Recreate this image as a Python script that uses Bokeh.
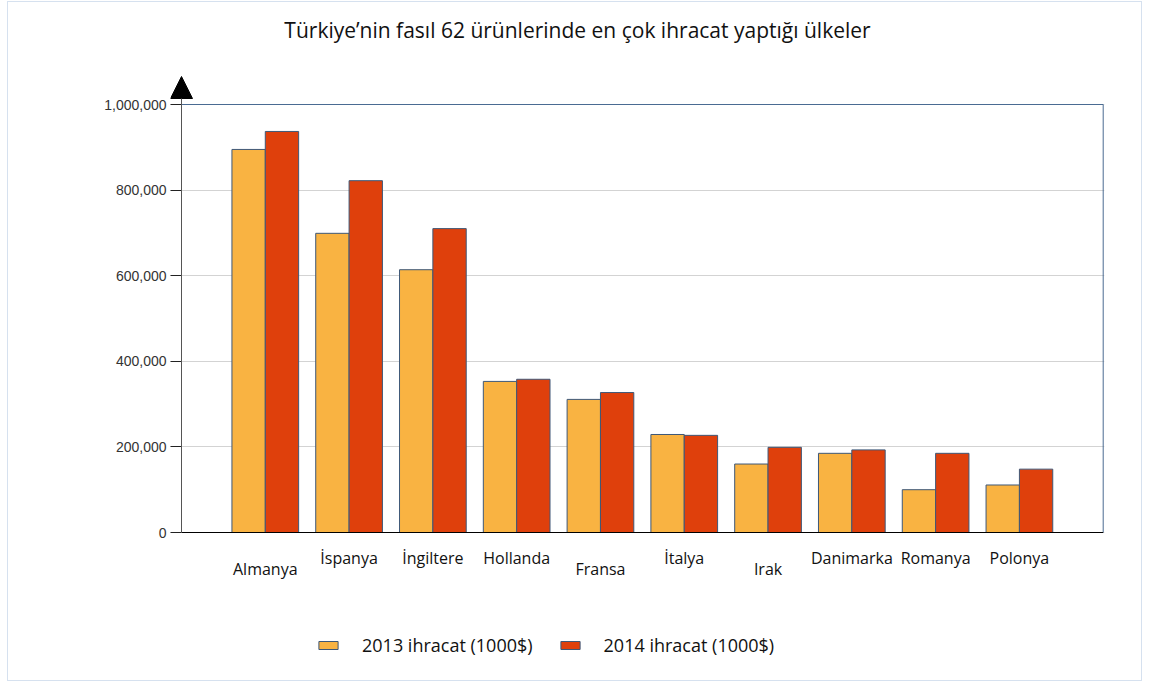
from bokeh.plotting import figure
from bokeh.models import (ColumnDataSource, Range1d, FixedTicker, NumeralTickFormatter,
                          LabelSet, Label, Legend, LegendItem, Arrow, NormalHead)
from bokeh.core.properties import value
from bokeh.embed import file_html
from bokeh.resources import INLINE

title_text = "Türkiye’nin fasıl 62 ürünlerinde en çok ihracat yaptığı ülkeler"
countries = ["Almanya", "İspanya", "İngiltere", "Hollanda", "Fransa",
             "İtalya", "Irak", "Danimarka", "Romanya", "Polonya"]
exports_2013 = [895000, 699000, 614000, 353000, 311000, 229000, 160000, 185000, 100000, 111000]
exports_2014 = [937000, 822000, 710000, 358000, 327000, 227000, 199000, 193000, 185000, 148000]
series_names = ["2013 ihracat (1000$)", "2014 ihracat (1000$)"]
y_ticks = [0, 200000, 400000, 600000, 800000, 1000000]
label_row = [1, 0, 0, 0, 1, 0, 1, 0, 0, 0]  # staggered category labels (1 = lower row)

C13 = "#F9B342"
C14 = "#DF400C"
EDGE = "#3E5878"
FRAME = "#4A6B92"
FONT = "Open Sans"

# layout constants (pixels inside the figure)
FIG_W, FIG_H = 1135, 680
ZERO_PX = 530          # y of value 0 from top
PLOT_H_PX = 428        # px from 0 to y_max
LEFT_PX = 162          # frame left
ORIGIN_X_PX = 173      # x of category axis origin
RIGHT_PX = 1096        # frame right
n = len(countries)
y_max = y_ticks[-1]
px_y = PLOT_H_PX / y_max
px_x = (1094.7 - ORIGIN_X_PX) / (n + 1)

x_lo = -(ORIGIN_X_PX - LEFT_PX) / px_x
x_hi = (RIGHT_PX - ORIGIN_X_PX) / px_x
y_lo = -(FIG_H - ZERO_PX) / px_y
y_hi = ZERO_PX / px_y
arrow_tip = (ZERO_PX - 74) / px_y

pos = [i + 1 for i in range(n)]
bw = 0.398
src = ColumnDataSource(dict(
    x13=[q - bw / 2 for q in pos],
    x14=[q + bw / 2 for q in pos],
    v13=exports_2013, v14=exports_2014,
))
lab_src = ColumnDataSource(dict(
    x=pos, y=[0] * n, text=countries,
    yoff=[-36 if r else -25 for r in label_row],
))

p = figure(width=FIG_W, height=FIG_H, output_backend="svg", toolbar_location=None,
           x_range=Range1d(x_lo, x_hi), y_range=Range1d(y_lo, y_hi),
           x_axis_location=None,
           min_border_left=LEFT_PX, min_border_right=FIG_W - RIGHT_PX,
           min_border_top=0, min_border_bottom=0,
           background_fill_color="white", border_fill_color="white")
p.styles = {"border": "1px solid #d6e1ef", "margin-left": "7px", "margin-top": "1px"}
p.outline_line_color = None
p.xgrid.visible = False

# grid
p.ygrid.ticker = FixedTicker(ticks=y_ticks)
p.ygrid.grid_line_color = "#D3D3D3"

# frame lines (top and right, blue-gray)
p.segment(x0=[0, n + 1], y0=[y_max, 0], x1=[n + 1, n + 1], y1=[y_max, y_max],
          line_color=FRAME, line_width=1)

r13 = p.vbar(x="x13", top="v13", width=bw, source=src, fill_color=C13,
             line_color=EDGE, line_width=1)
r14 = p.vbar(x="x14", top="v14", width=bw, source=src, fill_color=C14,
             line_color=EDGE, line_width=1)

# x axis line
p.segment(x0=[0], y0=[0], x1=[n + 1], y1=[0], line_color="black", line_width=1)

# y axis with arrow
p.add_layout(Arrow(x_start=0, y_start=0, x_end=0, y_end=arrow_tip,
                   line_color="#555555", line_width=1,
                   end=NormalHead(size=22, fill_color="black", line_color="black")))

p.yaxis.ticker = FixedTicker(ticks=y_ticks)
p.yaxis.formatter = NumeralTickFormatter(format="0,0")
p.yaxis.axis_line_color = None
p.yaxis.major_tick_line_color = "#222222"
p.yaxis.major_tick_out = 0
p.yaxis.major_tick_in = ORIGIN_X_PX - LEFT_PX
p.yaxis.minor_tick_line_color = None
p.yaxis.major_label_text_font = "Liberation Sans"
p.yaxis.major_label_text_font_size = "14px"
p.yaxis.major_label_text_color = "#333333"
p.yaxis.major_label_standoff = 4

# category labels
p.add_layout(LabelSet(x="x", y="y", text="text", y_offset="yoff", source=lab_src,
                      text_align="center", text_baseline="middle",
                      text_font=value(FONT), text_font_size="16px", text_color="#111111"))

# title
p.add_layout(Label(x=407, y=FIG_H - 27, x_units="screen", y_units="screen", text=title_text,
                   text_align="center", text_baseline="middle",
                   text_font=FONT, text_font_size="21px", text_color="#111111"))

legend = Legend(items=[LegendItem(label=series_names[0], renderers=[r13]),
                       LegendItem(label=series_names[1], renderers=[r14])],
                location=(146, 25), orientation="horizontal",
                glyph_width=24, glyph_height=10, label_standoff=22, spacing=25,
                padding=0, margin=0, border_line_color=None, background_fill_alpha=0,
                label_text_font=FONT, label_text_font_size="18px", label_text_color="#111111")
p.add_layout(legend, "center")

open("out.html", "w").write(file_html(p, INLINE))
